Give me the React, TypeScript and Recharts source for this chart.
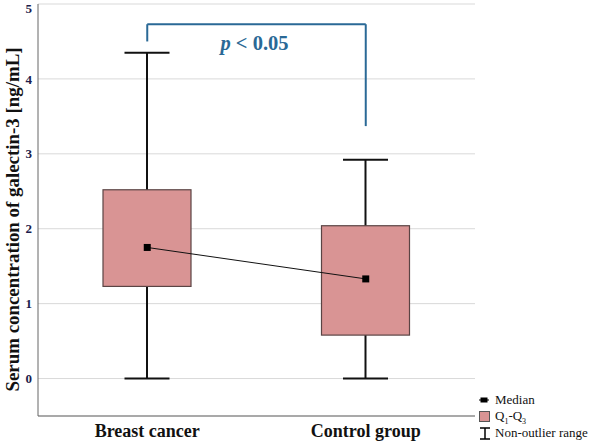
import React from 'react';
import { ComposedChart, Bar, Line, XAxis, YAxis, CartesianGrid, ReferenceLine } from 'recharts';

const categories = ['Breast cancer', 'Control group'];
const minValues = [0, 0];
const q1Values = [1.23, 0.58];
const medianValues = [1.75, 1.33];
const q3Values = [2.52, 2.04];
const maxValues = [4.35, 2.92];
const yTicks = [0, 1, 2, 3, 4, 5];
const bracketTop = 4.73;
const bracketLeftEnd = 4.5;
const bracketRightEnd = 3.37;
const pThreshold = '0.05';
const yLabel = 'Serum concentration of galectin-3 [ng/mL]';

const data = categories.map((name, i) => ({
  name,
  range: [minValues[i], maxValues[i]],
  min: minValues[i],
  q1: q1Values[i],
  median: medianValues[i],
  q3: q3Values[i],
  max: maxValues[i],
}));

const SERIF = '"Liberation Serif", "Times New Roman", "DejaVu Serif", serif';
const BOX_FILL = '#d99494';
const BOX_STROKE = '#5a4444';
const BLUE = '#2a6996';

const CHART_W = 590;
const CHART_H = 442;
const MARGIN = { top: 4, right: 115, bottom: 0, left: 0 };
const X_AXIS_H = 26;
const PLOT_CENTER_Y = MARGIN.top + (CHART_H - MARGIN.top - MARGIN.bottom - X_AXIS_H) / 2;

const BoxShape = (props: any) => {
  const { x, y, width, height, payload } = props;
  if (!payload) return null;
  const top = Math.min(y, y + height);
  const h = Math.abs(height);
  const span = payload.max - payload.min;
  const py = (v: number) => top + ((payload.max - v) / span) * h;
  const cx = x + width / 2;
  const cap = 45;
  return (
    <g>
      <line x1={cx} x2={cx} y1={py(payload.max)} y2={py(payload.min)} stroke="#111" strokeWidth={2} />
      <line x1={cx - cap / 2} x2={cx + cap / 2} y1={py(payload.max)} y2={py(payload.max)} stroke="#111" strokeWidth={2} />
      <line x1={cx - cap / 2} x2={cx + cap / 2} y1={py(payload.min)} y2={py(payload.min)} stroke="#111" strokeWidth={2} />
      <rect
        x={x}
        y={py(payload.q3)}
        width={width}
        height={py(payload.q1) - py(payload.q3)}
        fill={BOX_FILL}
        stroke={BOX_STROKE}
        strokeWidth={1.2}
      />
    </g>
  );
};

const SquareDot = (p: any) => (
  <rect key={`d-${p.index}`} x={p.cx - 3.5} y={p.cy - 3.5} width={7} height={7} fill="#000" />
);

const YLabelContent = () => {
  const cx = 12;
  const cy = PLOT_CENTER_Y + 9.5;
  return (
    <text
      x={cx}
      y={cy}
      transform={`rotate(-90, ${cx}, ${cy})`}
      textAnchor="middle"
      dominantBaseline="central"
      fontFamily={SERIF}
      fontWeight="bold"
      fontSize={18.9}
      fill="#111"
    >
      {yLabel}
    </text>
  );
};

const BracketLabel = (props: any) => {
  const vb = props.viewBox || {};
  const cx = vb.x1 != null ? (vb.x1 + vb.x2) / 2 : vb.x + (vb.width || 0) / 2;
  const y = vb.y1 != null ? vb.y1 : vb.y;
  return (
    <text x={cx - 2} y={y + 26} textAnchor="middle" fontFamily={SERIF} fontWeight="bold" fontSize={20.5} fill={BLUE}>
      <tspan fontStyle="italic">p</tspan>
      <tspan>{` < ${pThreshold}`}</tspan>
    </text>
  );
};

const legendRow: React.CSSProperties = {
  display: 'flex',
  alignItems: 'center',
  height: 16,
  fontFamily: SERIF,
  fontSize: 13,
  color: '#111',
  whiteSpace: 'nowrap',
};

export default function App() {
  return (
    <div style={{ position: 'absolute', left: 0, top: 0, width: CHART_W, height: CHART_H, background: '#fff' }}>
      <ComposedChart width={CHART_W} height={CHART_H} data={data} margin={MARGIN}>
        <CartesianGrid vertical={false} stroke="#d9d9d9" strokeWidth={1} />
        <XAxis
          dataKey="name"
          height={X_AXIS_H}
          stroke="#666"
          tickLine={false}
          tickSize={0}
          tickMargin={8}
          tick={{ fontFamily: SERIF, fontWeight: 'bold', fontSize: 18, fill: '#111' }}
        />
        <XAxis xAxisId="top" dataKey="name" orientation="top" height={0} stroke="#666" tick={false} tickLine={false} />
        <YAxis
          width={38}
          domain={[-0.5, 5]}
          ticks={yTicks}
          type="number"
          stroke="#666"
          tickLine={false}
          tickSize={0}
          tickMargin={6}
          tick={{ fontFamily: SERIF, fontWeight: 'bold', fontSize: 13, fill: '#1c1c4c' }}
          label={<YLabelContent />}
        />
        <YAxis yAxisId="right" orientation="right" width={0} domain={[-0.5, 5]} type="number" stroke="#666" tick={false} tickLine={false} />
        <Bar dataKey="range" barSize={88} shape={<BoxShape />} isAnimationActive={false} />
        <Line
          dataKey="median"
          stroke="#111"
          strokeWidth={1}
          dot={<SquareDot />}
          activeDot={false}
          isAnimationActive={false}
        />
        <ReferenceLine
          segment={[{ x: categories[0], y: bracketTop }, { x: categories[1], y: bracketTop }]}
          stroke={BLUE}
          strokeWidth={2}
          label={<BracketLabel />}
        />
        <ReferenceLine
          segment={[{ x: categories[0], y: bracketLeftEnd }, { x: categories[0], y: bracketTop }]}
          stroke={BLUE}
          strokeWidth={2}
        />
        <ReferenceLine
          segment={[{ x: categories[1], y: bracketRightEnd }, { x: categories[1], y: bracketTop }]}
          stroke={BLUE}
          strokeWidth={2}
        />
      </ComposedChart>
      <div style={{ position: 'absolute', left: 479, top: 392 }}>
        <div style={legendRow}>
          <svg width={14} height={10} style={{ marginRight: 2 }}>
            <line x1={0} x2={10} y1={5} y2={5} stroke="#000" strokeWidth={1} />
            <rect x={1.5} y={2.5} width={7} height={5} fill="#000" />
          </svg>
          <span style={{ fontFamily: SERIF }}>Median</span>
        </div>
        <div style={{ ...legendRow, height: 17 }}>
          <svg width={14} height={12} style={{ marginRight: 2 }}>
            <rect x={0.5} y={0.5} width={10} height={10} fill={BOX_FILL} stroke="#555" strokeWidth={1} />
          </svg>
          <span style={{ fontFamily: SERIF }}>
            Q<sub style={{ fontSize: 8 }}>1</sub>-Q<sub style={{ fontSize: 8 }}>3</sub>
          </span>
        </div>
        <div style={legendRow}>
          <svg width={14} height={13} style={{ marginRight: 2 }}>
            <line x1={1} x2={11} y1={1} y2={1} stroke="#000" strokeWidth={1.5} />
            <line x1={6} x2={6} y1={1} y2={12} stroke="#000" strokeWidth={1.5} />
            <line x1={1} x2={11} y1={12} y2={12} stroke="#000" strokeWidth={1.5} />
          </svg>
          <span style={{ fontFamily: SERIF }}>Non-outlier range</span>
        </div>
      </div>
    </div>
  );
}
